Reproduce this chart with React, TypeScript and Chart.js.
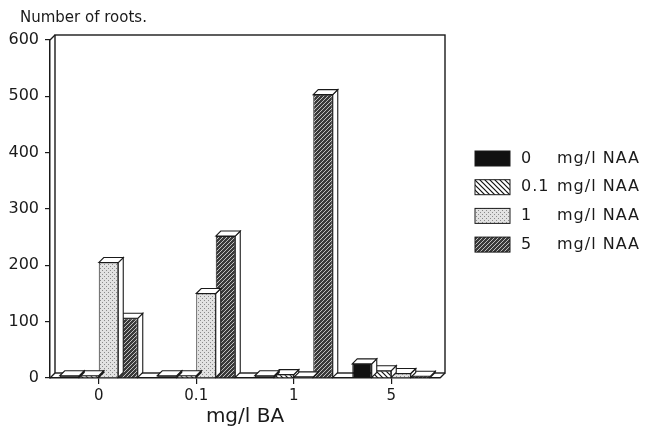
import React, { useEffect, useRef } from "react";
import { Chart, registerables } from "chart.js";
Chart.register(...registerables);

// ---- data ----
const categories = ["0", "0.1", "1", "5"];
const seriesNames = ["0", "0.1", "1", "5"];
const legendUnit = "mg/l NAA";
const naa0 = [4, 4, 4, 25];
const naa01 = [4, 4, 6, 13];
const naa1 = [205, 150, 2, 8];
const naa5 = [106, 252, 503, 3];
const yMin = 0;
const yMax = 600;
const yStep = 100;
const xTitle = "mg/l BA";
const yTitle = "Number of roots.";

const INK = "#1a1a1a";
const FONT = "'DejaVu Sans', 'Liberation Sans', Arial, sans-serif";

function tile(size: number, draw: (c: CanvasRenderingContext2D) => void): CanvasPattern | string {
  const cv = document.createElement("canvas");
  cv.width = size;
  cv.height = size;
  const c = cv.getContext("2d")!;
  draw(c);
  const p = c.createPattern(cv, "repeat");
  return p || "#888";
}

function makeFills(): (CanvasPattern | string)[] {
  const solid = "#111111";
  const back = tile(5, (c) => {
    c.fillStyle = "#ffffff";
    c.fillRect(0, 0, 5, 5);
    c.strokeStyle = "#111";
    c.lineWidth = 1.2;
    c.beginPath();
    c.moveTo(-1, -1); c.lineTo(6, 6);
    c.moveTo(-1, 4); c.lineTo(1, 6);
    c.moveTo(4, -1); c.lineTo(6, 1);
    c.stroke();
  });
  const dots = tile(4, (c) => {
    c.fillStyle = "#e2e2e2";
    c.fillRect(0, 0, 4, 4);
    c.fillStyle = "#8a8a8a";
    c.fillRect(0, 0, 1, 1);
    c.fillRect(2, 2, 1, 1);
  });
  const fwd = tile(4, (c) => {
    c.fillStyle = "#3a3a3a";
    c.fillRect(0, 0, 4, 4);
    c.strokeStyle = "#cfcfcf";
    c.lineWidth = 0.9;
    c.beginPath();
    c.moveTo(-1, 5); c.lineTo(5, -1);
    c.moveTo(-1, 1); c.lineTo(1, -1);
    c.moveTo(3, 5); c.lineTo(5, 3);
    c.stroke();
  });
  return [solid, back, dots, fwd];
}

export default function App() {
  const ref = useRef<HTMLCanvasElement>(null);

  useEffect(() => {
    const canvas = ref.current!;
    const fills = makeFills();
    const series = [naa0, naa01, naa1, naa5];
    const D = 5;

    const depthPlugin = {
      id: "depth3d",
      beforeDatasetsDraw(chart: any) {
        const { ctx, chartArea: a } = chart;
        ctx.save();
        ctx.strokeStyle = INK;
        ctx.lineWidth = 1.4;
        ctx.strokeRect(a.left + D, a.top - D, a.right - a.left, a.bottom - a.top);
        ctx.beginPath();
        ctx.moveTo(a.left, a.bottom); ctx.lineTo(a.left + D, a.bottom - D);
        ctx.moveTo(a.right, a.bottom); ctx.lineTo(a.right + D, a.bottom - D);
        ctx.moveTo(a.left, a.top); ctx.lineTo(a.left + D, a.top - D);
        ctx.stroke();
        ctx.restore();
      },
      beforeDatasetDraw(chart: any, args: any) {
        const meta = chart.getDatasetMeta(args.index);
        const ctx = chart.ctx;
        ctx.save();
        ctx.fillStyle = "#ffffff";
        ctx.strokeStyle = INK;
        ctx.lineWidth = 1.1;
        meta.data.forEach((el: any) => {
          const p = el.getProps(["x", "y", "base", "width"], true);
          const l = p.x - p.width / 2;
          const r = p.x + p.width / 2;
          ctx.beginPath();
          ctx.moveTo(r, p.y); ctx.lineTo(r + D, p.y - D); ctx.lineTo(r + D, p.base - D); ctx.lineTo(r, p.base);
          ctx.closePath(); ctx.fill(); ctx.stroke();
          ctx.beginPath();
          ctx.moveTo(l, p.y); ctx.lineTo(l + D, p.y - D); ctx.lineTo(r + D, p.y - D); ctx.lineTo(r, p.y);
          ctx.closePath(); ctx.fill(); ctx.stroke();
        });
        ctx.restore();
      },
      afterDraw(chart: any) {
        const { ctx, chartArea: a } = chart;
        ctx.save();
        // y title
        ctx.font = `15px ${FONT}`;
        ctx.fillStyle = INK;
        ctx.textAlign = "left";
        ctx.textBaseline = "middle";
        ctx.fillText(yTitle, a.left - 30, a.top - 22);
        // legend
        const bx = a.right + 35;
        let cy = a.top + 118.5;
        ctx.font = `16px ${FONT}`;
        (ctx as any).letterSpacing = "1px";
        for (let i = 0; i < seriesNames.length; i++) {
          ctx.fillStyle = fills[i] as any;
          ctx.fillRect(bx, cy - 7.5, 35, 15);
          ctx.strokeStyle = INK;
          ctx.lineWidth = 1;
          ctx.strokeRect(bx, cy - 7.5, 35, 15);
          ctx.fillStyle = INK;
          ctx.fillText(seriesNames[i], bx + 46, cy);
          ctx.fillText(legendUnit, bx + 82, cy);
          cy += 28.7;
        }
        ctx.restore();
      },
    };

    const chart = new Chart(canvas, {
      type: "bar",
      data: {
        labels: categories,
        datasets: series.map((d, i) => ({
          label: seriesNames[i] + " " + legendUnit,
          data: d,
          backgroundColor: fills[i] as any,
          borderColor: INK,
          borderWidth: 1,
          barPercentage: 1,
          categoryPercentage: 0.8,
        })),
      },
      options: {
        responsive: false,
        animation: false,
        devicePixelRatio: 1,
        layout: { padding: { top: 32, right: 199, left: 0, bottom: 0 } },
        plugins: {
          legend: { display: false },
          tooltip: { enabled: false },
          title: { display: false },
        },
        scales: {
          x: {
            type: "category",
            offset: true,
            grid: {
              display: true,
              drawOnChartArea: false,
              drawTicks: true,
              tickLength: 6,
              offset: false,
              color: INK,
              lineWidth: 1.2,
            },
            border: { display: true, color: INK, width: 1.5 },
            ticks: { font: { family: FONT, size: 15 }, color: INK, padding: 3, maxRotation: 0 },
            title: {
              display: true,
              text: xTitle,
              font: { family: FONT, size: 20 },
              color: INK,
              padding: { top: 2, bottom: 6 },
            },
            afterFit: (s: any) => { s.height = 57; },
          },
          y: {
            min: yMin,
            max: yMax,
            ticks: { stepSize: yStep, font: { family: FONT, size: 16 }, color: INK, padding: 6 },
            grid: { drawOnChartArea: false, drawTicks: true, tickLength: 5, color: INK, lineWidth: 1.2 },
            border: { display: true, color: INK, width: 1.5 },
            afterFit: (s: any) => { s.width = 42; },
          },
        },
      },
      plugins: [depthPlugin],
    } as any);

    return () => chart.destroy();
  }, []);

  return (
    <div style={{ width: 631, height: 427 }}>
      <canvas ref={ref} width={631} height={427} style={{ display: "block" }} />
    </div>
  );
}
